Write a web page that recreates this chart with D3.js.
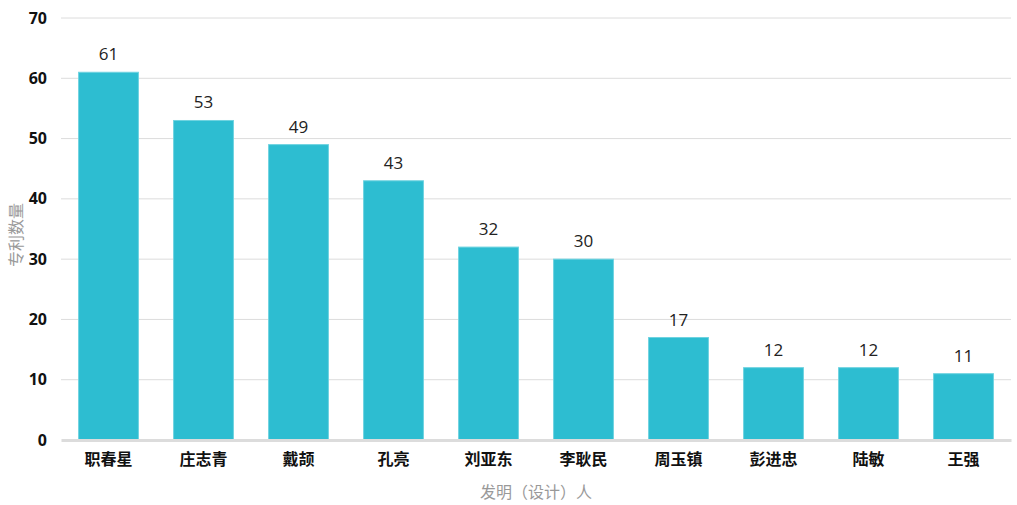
<!DOCTYPE html>
<meta charset="utf-8">
<style>
body { margin: 0; background: #fff; }
svg text { font-family: "Open Sans", "Noto Sans CJK SC", sans-serif; }
.grid line { stroke: #dcdcdc; stroke-width: 1px; }
.bar { fill: #2dbdd1; stroke: #6fd3e0; stroke-width: 1px; }
</style>
<body></body>
<script src="https://cdn.jsdelivr.net/npm/d3@7/dist/d3.min.js"></script>
<script>
// inventors and patent counts
var inventors = ["职春星", "庄志青", "戴颉", "孔亮", "刘亚东", "李耿民", "周玉镇", "彭进忠", "陆敏", "王强"];
var patents = [61, 53, 49, 43, 32, 30, 17, 12, 12, 11];
var yTicks = [0, 10, 20, 30, 40, 50, 60, 70];

var W = 1017, H = 505;
var margin = {top: 18, right: 6, bottom: 65, left: 61};
var width = W - margin.left - margin.right,
    height = H - margin.top - margin.bottom;

var svg = d3.select("body").append("svg")
    .attr("width", W).attr("height", H)
  .append("g")
    .attr("transform", "translate(" + margin.left + "," + margin.top + ")");

var x = d3.scaleBand().domain(inventors).range([0, width]).paddingInner(0.37).paddingOuter(0.185);
var y = d3.scaleLinear().domain([0, 70]).range([height, 0]);

// gridlines
svg.append("g").attr("class", "grid")
  .selectAll("line").data(yTicks.slice(1)).enter().append("line")
    .attr("x1", 0).attr("x2", width)
    .attr("y1", function(d) { return y(d); })
    .attr("y2", function(d) { return y(d); });

// y axis labels
var yAxis = svg.append("g")
    .call(d3.axisLeft(y).tickValues(yTicks).tickSize(0).tickPadding(14));
yAxis.select(".domain").remove();
yAxis.selectAll("text")
    .style("font-size", "16px").style("font-weight", "bold").attr("fill", "#111");

// bars
svg.selectAll(".bar").data(patents).enter().append("rect")
    .attr("class", "bar")
    .attr("x", function(d, i) { return x(inventors[i]); })
    .attr("y", function(d) { return y(d); })
    .attr("width", x.bandwidth())
    .attr("height", function(d) { return height - y(d); });

// value labels
svg.selectAll(".val").data(patents).enter().append("text")
    .attr("x", function(d, i) { return x(inventors[i]) + x.bandwidth() / 2; })
    .attr("y", function(d) { return y(d) - 12; })
    .attr("text-anchor", "middle")
    .style("font-size", "17px").attr("fill", "#222")
    .text(function(d) { return d; });

// x axis
var xAxis = svg.append("g")
    .attr("transform", "translate(0," + height + ")")
    .call(d3.axisBottom(x).tickSize(0).tickPadding(14));
xAxis.select(".domain").attr("stroke", "#dcdcdc").attr("stroke-width", 3);
xAxis.selectAll("text")
    .style("font-size", "16px").style("font-weight", "bold").attr("fill", "#111");

// axis titles
svg.append("text")
    .attr("x", width / 2).attr("y", height + 58)
    .attr("text-anchor", "middle")
    .style("font-size", "16px").attr("fill", "#999")
    .text("发明（设计）人");

svg.append("text")
    .attr("transform", "rotate(-90)")
    .attr("x", -217).attr("y", -39)
    .attr("text-anchor", "middle")
    .style("font-size", "16px").attr("fill", "#999")
    .text("专利数量");
</script>
